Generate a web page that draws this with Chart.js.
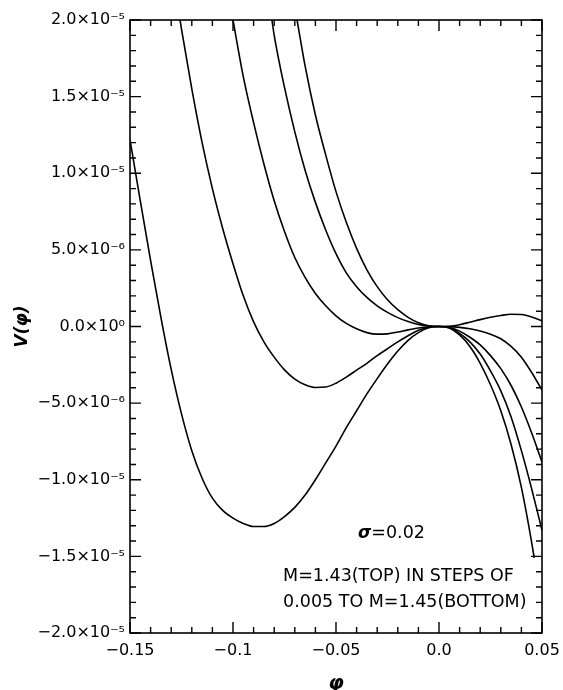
<!DOCTYPE html>
<html>
<head>
<meta charset="utf-8">
<script src="https://cdn.jsdelivr.net/npm/chart.js@4.4.1/dist/chart.umd.min.js"></script>
<style>
  html, body { margin: 0; padding: 0; background: #fff; }
  #wrap { width: 563px; height: 690px; }
</style>
</head>
<body>
<div id="wrap"><canvas id="potChart" width="563" height="690"></canvas></div>
<script>
// Values. V is kept in units of 1e-6.
const V_UNIT = 1e-6;

// M = 1.43 (top)
const phiM143 = [-0.0689, -0.065, -0.06, -0.055, -0.05, -0.045, -0.04, -0.035, -0.03, -0.025, -0.02, -0.015, -0.01, -0.005, 0, 0.005, 0.01, 0.015, 0.02, 0.025, 0.03, 0.035, 0.04, 0.045, 0.05];
const vM143   = [20, 17.0, 13.8, 11.2, 8.8, 6.8, 5.1, 3.7, 2.6, 1.75, 1.1, 0.6, 0.25, 0.05, 0, 0.02, 0.12, 0.28, 0.45, 0.6, 0.72, 0.8, 0.78, 0.62, 0.36];

// M = 1.435
const phiM1435 = [-0.0811, -0.08, -0.075, -0.07, -0.065, -0.06, -0.055, -0.05, -0.045, -0.04, -0.035, -0.03, -0.025, -0.02, -0.015, -0.01, -0.005, 0, 0.005, 0.01, 0.015, 0.02, 0.025, 0.03, 0.035, 0.04, 0.045, 0.05];
const vM1435   = [20, 19.0, 15.6, 12.7, 10.2, 8.1, 6.3, 4.75, 3.5, 2.6, 1.9, 1.35, 0.92, 0.58, 0.32, 0.13, 0.03, 0, -0.01, -0.06, -0.15, -0.3, -0.5, -0.8, -1.3, -2.0, -3.0, -4.15];

// M = 1.44
const phiM144 = [-0.1, -0.095, -0.09, -0.085, -0.08, -0.075, -0.07, -0.065, -0.06, -0.055, -0.05, -0.045, -0.04, -0.035, -0.03, -0.025, -0.02, -0.015, -0.01, -0.005, 0, 0.005, 0.01, 0.015, 0.02, 0.025, 0.03, 0.035, 0.04, 0.045, 0.05];
const vM144   = [20, 16.3, 13.3, 10.6, 8.2, 6.2, 4.5, 3.2, 2.15, 1.35, 0.7, 0.2, -0.15, -0.4, -0.5, -0.48, -0.36, -0.22, -0.1, -0.02, 0, -0.05, -0.3, -0.7, -1.2, -1.9, -2.75, -3.85, -5.25, -6.95, -8.85];

// M = 1.445
const phiM1445 = [-0.1257, -0.125, -0.12, -0.115, -0.11, -0.105, -0.1, -0.095, -0.09, -0.085, -0.08, -0.075, -0.07, -0.065, -0.06, -0.055, -0.05, -0.045, -0.04, -0.035, -0.03, -0.025, -0.02, -0.015, -0.01, -0.005, 0, 0.005, 0.01, 0.015, 0.02, 0.025, 0.03, 0.035, 0.04, 0.045, 0.05];
const vM1445   = [20, 19.4, 15.5, 12.0, 9.0, 6.4, 4.1, 2.0, 0.3, -1.0, -2.0, -2.83, -3.43, -3.8, -3.98, -3.95, -3.7, -3.3, -2.85, -2.4, -1.9, -1.45, -1.0, -0.6, -0.25, -0.05, 0, -0.08, -0.45, -1.0, -1.8, -2.9, -4.2, -5.9, -8.1, -10.6, -13.3];

// M = 1.45 (bottom)
const phiM145 = [-0.15, -0.145, -0.14, -0.135, -0.13, -0.125, -0.12, -0.115, -0.11, -0.105, -0.1, -0.095, -0.09, -0.085, -0.08, -0.075, -0.07, -0.065, -0.06, -0.055, -0.05, -0.045, -0.04, -0.035, -0.03, -0.025, -0.02, -0.015, -0.01, -0.005, 0, 0.005, 0.01, 0.015, 0.02, 0.025, 0.03, 0.035, 0.04, 0.045, 0.0462];
const vM145   = [12.2, 8.2, 4.3, 0.6, -2.8, -5.7, -8.1, -9.9, -11.2, -12.0, -12.5, -12.85, -13.05, -13.05, -12.85, -12.4, -11.8, -11.0, -10.0, -8.9, -7.8, -6.6, -5.5, -4.4, -3.4, -2.45, -1.6, -0.9, -0.4, -0.08, 0, -0.1, -0.55, -1.3, -2.4, -3.8, -5.5, -7.7, -10.5, -14.1, -15.1];

// axes
const xTickValues = [-0.15, -0.1, -0.05, 0, 0.05];
const xTickLabels = ['\u22120.15', '\u22120.1', '\u22120.05', '0.0', '0.05'];
const yTickValues = [-2e-5, -1.5e-5, -1e-5, -5e-6, 0, 5e-6, 1e-5, 1.5e-5, 2e-5];
const yTickLabels = ['\u22122.0\u00d710\u207b\u2075', '\u22121.5\u00d710\u207b\u2075', '\u22121.0\u00d710\u207b\u2075', '\u22125.0\u00d710\u207b\u2076',
                     '0.0\u00d710\u2070', '5.0\u00d710\u207b\u2076', '1.0\u00d710\u207b\u2075', '1.5\u00d710\u207b\u2075', '2.0\u00d710\u207b\u2075'];

const FONT = 'DejaVu Sans';

function toPoints(phi, v) {
    return phi.map((p, i) => ({ x: p, y: v[i] * V_UNIT }));
}

function curve(phi, v) {
    return {
        data: toPoints(phi, v),
        borderColor: '#000',
        borderWidth: 1.6,
        pointRadius: 0,
        fill: false,
        cubicInterpolationMode: 'monotone'
    };
}

// box, inward ticks on all four sides, and the in-plot notes
const frameTicks = {
    id: 'frameTicks',
    afterDatasetsDraw(chart) {
        const { ctx, chartArea: a, scales: { x, y } } = chart;
        ctx.save();
        ctx.strokeStyle = '#000';
        ctx.lineWidth = 1.6;
        ctx.strokeRect(a.left, a.top, a.right - a.left, a.bottom - a.top);

        ctx.lineWidth = 1.4;
        ctx.beginPath();
        for (let i = 0; i <= 20; i++) {
            const px = x.getPixelForValue(-0.15 + i * 0.01);
            const len = i % 5 === 0 ? 11 : 6;
            ctx.moveTo(px, a.bottom); ctx.lineTo(px, a.bottom - len);
            ctx.moveTo(px, a.top); ctx.lineTo(px, a.top + len);
        }
        for (let i = 0; i <= 40; i++) {
            const py = y.getPixelForValue(-2e-5 + i * 1e-6);
            const len = i % 5 === 0 ? 11 : 6;
            ctx.moveTo(a.left, py); ctx.lineTo(a.left + len, py);
            ctx.moveTo(a.right, py); ctx.lineTo(a.right - len, py);
        }
        ctx.stroke();

        // notes
        ctx.fillStyle = '#000';
        ctx.textBaseline = 'alphabetic';
        ctx.textAlign = 'left';
        let tx = x.getPixelForValue(-0.0393);
        const ty = y.getPixelForValue(-13.8e-6);
        ctx.font = 'bold italic 17px "' + FONT + '"';
        ctx.fillText('\u03c3', tx, ty);
        tx += ctx.measureText('\u03c3').width;
        ctx.font = '17.5px "' + FONT + '"';
        ctx.fillText('=0.02', tx, ty);

        const lx = x.getPixelForValue(-0.0757);
        ctx.fillText('M=1.43(TOP) IN STEPS OF', lx, y.getPixelForValue(-16.6e-6));
        ctx.fillText('0.005 TO M=1.45(BOTTOM)', lx, y.getPixelForValue(-18.3e-6));
        ctx.restore();
    }
};

const ctx = document.getElementById('potChart').getContext('2d');
new Chart(ctx, {
    type: 'line',
    data: {
        datasets: [
            curve(phiM143, vM143),
            curve(phiM1435, vM1435),
            curve(phiM144, vM144),
            curve(phiM1445, vM1445),
            curve(phiM145, vM145)
        ]
    },
    options: {
        responsive: false,
        animation: false,
        layout: { padding: { top: 20, right: 21, left: 0, bottom: 0 } },
        plugins: { legend: { display: false }, tooltip: { enabled: false } },
        scales: {
            x: {
                type: 'linear',
                min: -0.15,
                max: 0.05,
                afterBuildTicks: s => { s.ticks = xTickValues.map(v => ({ value: v })); },
                afterFit: s => { s.height = 57; s.paddingLeft = 0; s.paddingRight = 0; },
                grid: { display: false, drawTicks: false },
                border: { display: false },
                ticks: {
                    callback: (v, i) => xTickLabels[i],
                    color: '#000',
                    padding: 8,
                    maxRotation: 0,
                    font: { family: FONT, size: 16 }
                },
                title: {
                    display: true,
                    text: '\u03c6',
                    color: '#000',
                    font: { family: FONT, size: 20, weight: 'bold', style: 'italic', lineHeight: 0.6 },
                    padding: { top: 0, bottom: 0 }
                }
            },
            y: {
                type: 'linear',
                min: -2e-5,
                max: 2e-5,
                afterBuildTicks: s => { s.ticks = yTickValues.map(v => ({ value: v })); },
                afterFit: s => { s.width = 130; s.paddingTop = 0; s.paddingBottom = 0; },
                grid: { display: false, drawTicks: false },
                border: { display: false },
                ticks: {
                    callback: (v, i) => yTickLabels[i],
                    color: '#000',
                    padding: 5,
                    font: { family: FONT, size: 16 }
                },
                title: {
                    display: true,
                    text: 'V(\u03c6)',
                    color: '#000',
                    font: { family: FONT, size: 17, weight: 'bold', style: 'italic', lineHeight: 1 },
                    padding: { top: 14, bottom: 0 }
                }
            }
        }
    },
    plugins: [frameTicks]
});
</script>
</body>
</html>
